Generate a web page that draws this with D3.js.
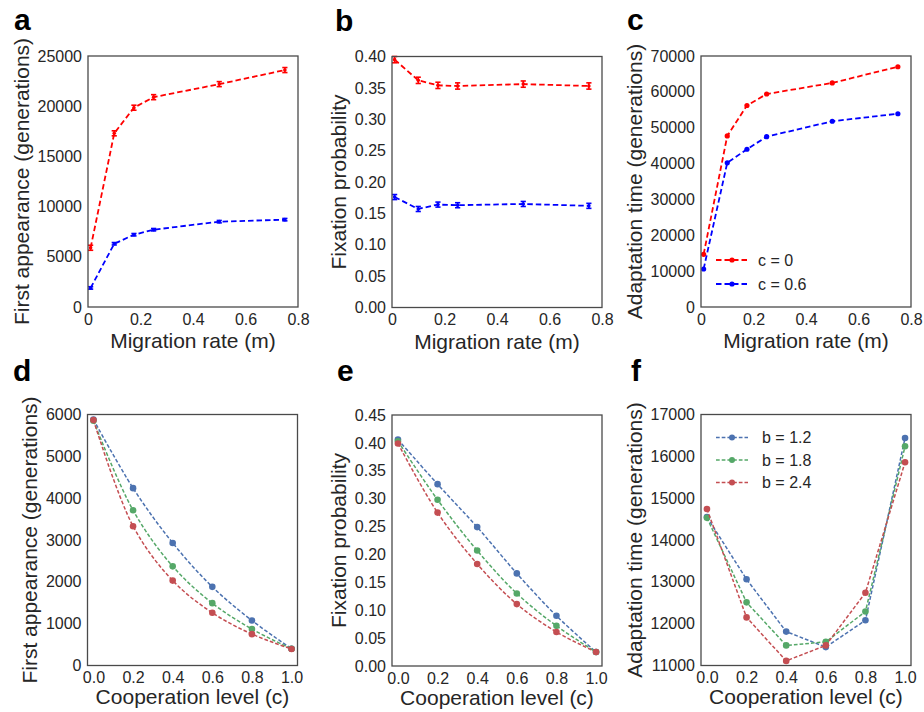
<!DOCTYPE html>
<html>
<head>
<meta charset="utf-8">
<script src="https://cdn.jsdelivr.net/npm/d3@7"></script>
<style>
  body { margin: 0; background: #fff; }
  svg { display: block; }
  text { font-family: "Liberation Sans", Arial, Helvetica, sans-serif; }
</style>
</head>
<body>
<svg id="fig" width="924" height="712"></svg>
<script>
// ---------- data: migration-rate experiments (top row) ----------
const migration = [0.01, 0.1, 0.175, 0.25, 0.5, 0.75];

const firstApp_c0      = [5900, 17300, 19850, 20900, 22200, 23600];
const firstApp_c0_err  = [250, 250, 250, 250, 250, 250];
const firstApp_c06     = [1900, 6300, 7200, 7700, 8500, 8700];
const firstApp_c06_err = [120, 120, 120, 120, 120, 120];

const fixProb_c0       = [0.395, 0.362, 0.354, 0.353, 0.356, 0.353];
const fixProb_c0_err   = [0.005, 0.005, 0.005, 0.005, 0.005, 0.005];
const fixProb_c06      = [0.176, 0.157, 0.164, 0.163, 0.165, 0.162];
const fixProb_c06_err  = [0.004, 0.004, 0.004, 0.004, 0.004, 0.004];

const adapt_c0         = [14700, 47700, 56200, 59400, 62500, 67000];
const adapt_c06        = [10600, 40200, 44000, 47500, 51800, 53900];

// ---------- data: cooperation-level experiments (bottom row) ----------
const cooperation = [0.0, 0.2, 0.4, 0.6, 0.8, 1.0];

const firstApp_b12 = [5880, 4240, 2930, 1880, 1075, 400];
const firstApp_b18 = [5850, 3710, 2370, 1490, 870, 400];
const firstApp_b24 = [5870, 3330, 2030, 1260, 750, 395];

const fixProb_b12 = [0.406, 0.326, 0.249, 0.166, 0.090, 0.025];
const fixProb_b18 = [0.403, 0.298, 0.207, 0.130, 0.072, 0.025];
const fixProb_b24 = [0.399, 0.275, 0.183, 0.111, 0.061, 0.025];

const adapt_b12 = [14550, 13060, 11810, 11440, 12080, 16440];
const adapt_b18 = [14530, 12510, 11480, 11565, 12290, 16240];
const adapt_b24 = [14740, 12150, 11110, 11480, 12740, 15860];

// ---------- tick values & labels ----------
const migTicks   = [0, 0.2, 0.4, 0.6, 0.8];
const coopTicks  = [0, 0.2, 0.4, 0.6, 0.8, 1.0];
const firstAppTicksTop = [0, 5000, 10000, 15000, 20000, 25000];
const fixProbTicksTop  = [0, 0.05, 0.10, 0.15, 0.20, 0.25, 0.30, 0.35, 0.40];
const adaptTicksTop    = [0, 10000, 20000, 30000, 40000, 50000, 60000, 70000];
const firstAppTicksBot = [0, 1000, 2000, 3000, 4000, 5000, 6000];
const fixProbTicksBot  = [0, 0.05, 0.10, 0.15, 0.20, 0.25, 0.30, 0.35, 0.40, 0.45];
const adaptTicksBot    = [11000, 12000, 13000, 14000, 15000, 16000, 17000];

const topLegend = ["c = 0", "c = 0.6"];
const botLegend = ["b = 1.2", "b = 1.8", "b = 2.4"];

// ---------- styles ----------
const RED = "#ff0000", BLUE = "#0000ff";
const SB_BLUE = "#4c72b0", SB_GREEN = "#55a868", SB_RED = "#c44e52";
const TEXT = "#262626";
const W = 210, H = 251;

const svg = d3.select("#fig");

const fmtInt = d3.format("d");
const fmt1 = d => d === 0 ? "0" : d3.format(".1f")(d);
const fmt1b = d3.format(".1f");
const fmt2 = d3.format(".2f");

function drawPanel(p) {
  const g = svg.append("g").attr("transform", `translate(${p.left},${p.top})`);
  const x = d3.scaleLinear().domain(p.xDomain).range([0, W]);
  const y = d3.scaleLinear().domain(p.yDomain).range([H, 0]);

  // series
  p.series.forEach(s => {
    const pts = s.x.map((xv, i) => [xv, s.y[i], s.err ? s.err[i] : 0]);
    const line = d3.line().x(d => x(d[0])).y(d => y(d[1]))
      .curve(s.smooth ? d3.curveCatmullRom.alpha(0.5) : d3.curveLinear);
    g.append("path").datum(pts)
      .attr("d", line)
      .attr("fill", "none")
      .attr("stroke", s.color)
      .attr("stroke-width", s.lw)
      .attr("stroke-dasharray", s.dash);

    if (s.err) {
      const eb = g.append("g").attr("stroke", s.color).attr("stroke-width", 1.6);
      pts.forEach(d => {
        const cx = x(d[0]), y0 = y(d[1] - d[2]), y1 = y(d[1] + d[2]);
        eb.append("line").attr("x1", cx).attr("x2", cx).attr("y1", y0).attr("y2", y1);
        eb.append("line").attr("x1", cx - 2.6).attr("x2", cx + 2.6).attr("y1", y0).attr("y2", y0);
        eb.append("line").attr("x1", cx - 2.6).attr("x2", cx + 2.6).attr("y1", y1).attr("y2", y1);
      });
    }
    g.append("g").selectAll("circle").data(pts).join("circle")
      .attr("cx", d => x(d[0])).attr("cy", d => y(d[1]))
      .attr("r", s.r).attr("fill", s.color);
  });

  // frame
  g.append("rect").attr("x", 0).attr("y", 0).attr("width", W).attr("height", H)
    .attr("fill", "none").attr("stroke", "#4a4a4a").attr("stroke-width", 1.3);

  // axes (no tick marks)
  const xAxis = g.append("g").attr("transform", `translate(0,${H})`)
    .call(d3.axisBottom(x).tickValues(p.xTicks).tickFormat(p.xFmt).tickSize(0).tickPadding(6));
  const yAxis = g.append("g")
    .call(d3.axisLeft(y).tickValues(p.yTicks).tickFormat(p.yFmt).tickSize(0).tickPadding(6));
  [xAxis, yAxis].forEach(a => {
    a.select(".domain").remove();
    a.selectAll("text").attr("fill", TEXT).attr("font-size", 16)
      .attr("font-family", '"Liberation Sans", Arial, sans-serif');
  });
  xAxis.selectAll("text").attr("dy", 0).attr("y", 17.5);

  // axis labels
  g.append("text")
    .attr("x", W / 2).attr("y", H + p.xLabelDy)
    .attr("text-anchor", "middle").attr("font-size", 21).attr("fill", TEXT)
    .text(p.xLabel);

  const yb = yAxis.node().getBBox();
  g.append("text")
    .attr("transform", `translate(${yb.x - 8.5},${H / 2}) rotate(-90)`)
    .attr("text-anchor", "middle").attr("font-size", 21).attr("fill", TEXT)
    .text(p.yLabel);

  // panel letter
  svg.append("text")
    .attr("x", p.letterX).attr("y", p.letterY)
    .attr("font-size", 30).attr("font-weight", "bold").attr("fill", "#000")
    .text(p.letter);

  // legend
  if (p.legend) {
    const lg = g.append("g");
    p.legend.items.forEach((it, i) => {
      const ly = p.legend.y0 + i * p.legend.dy;
      lg.append("line").attr("x1", p.legend.x0).attr("x2", p.legend.x0 + 32)
        .attr("y1", ly).attr("y2", ly)
        .attr("stroke", it.color).attr("stroke-width", it.lw).attr("stroke-dasharray", it.dash);
      lg.append("circle").attr("cx", p.legend.x0 + 16).attr("cy", ly).attr("r", it.r).attr("fill", it.color);
      lg.append("text").attr("x", p.legend.x0 + p.legend.tx).attr("y", ly).attr("dy", "0.35em")
        .attr("font-size", 16).attr("fill", TEXT).text(it.label);
    });
  }
}

const topDash = "5.5,3", topLw = 1.8;
const botDash = "3.7,2", botLw = 1.5;

// ---- a ----
drawPanel({
  left: 88, top: 56, letter: "a", letterX: 14, letterY: 30,
  xDomain: [0, 0.8], xTicks: migTicks, xFmt: fmt1,
  yDomain: [0, 25000], yTicks: firstAppTicksTop, yFmt: fmtInt,
  xLabel: "Migration rate (m)", yLabel: "First appearance (generations)", xLabelDy: 41,
  series: [
    { x: migration, y: firstApp_c0, err: firstApp_c0_err, color: RED, lw: topLw, dash: topDash, r: 1.8 },
    { x: migration, y: firstApp_c06, err: firstApp_c06_err, color: BLUE, lw: topLw, dash: topDash, r: 1.8 }
  ]
});

// ---- b ----
drawPanel({
  left: 392, top: 56.5, letter: "b", letterX: 335, letterY: 31,
  xDomain: [0, 0.8], xTicks: migTicks, xFmt: fmt1,
  yDomain: [0, 0.40], yTicks: fixProbTicksTop, yFmt: fmt2,
  xLabel: "Migration rate (m)", yLabel: "Fixation probability", xLabelDy: 41,
  series: [
    { x: migration, y: fixProb_c0, err: fixProb_c0_err, color: RED, lw: topLw, dash: topDash, r: 1.8 },
    { x: migration, y: fixProb_c06, err: fixProb_c06_err, color: BLUE, lw: topLw, dash: topDash, r: 1.8 }
  ]
});

// ---- c ----
drawPanel({
  left: 701, top: 56, letter: "c", letterX: 627, letterY: 30,
  xDomain: [0, 0.8], xTicks: migTicks, xFmt: fmt1,
  yDomain: [0, 70000], yTicks: adaptTicksTop, yFmt: fmtInt,
  xLabel: "Migration rate (m)", yLabel: "Adaptation time (generations)", xLabelDy: 41,
  series: [
    { x: migration, y: adapt_c0, color: RED, lw: topLw, dash: topDash, r: 2.6 },
    { x: migration, y: adapt_c06, color: BLUE, lw: topLw, dash: topDash, r: 2.6 }
  ],
  legend: {
    x0: 15, y0: 204, dy: 24, tx: 42,
    items: [
      { label: topLegend[0], color: RED, lw: topLw, dash: topDash, r: 2.6 },
      { label: topLegend[1], color: BLUE, lw: topLw, dash: topDash, r: 2.6 }
    ]
  }
});

// ---- d ----
drawPanel({
  left: 87.5, top: 414.5, letter: "d", letterX: 13, letterY: 381,
  xDomain: [-0.03, 1.03], xTicks: coopTicks, xFmt: fmt1b,
  yDomain: [0, 6000], yTicks: firstAppTicksBot, yFmt: fmtInt,
  xLabel: "Cooperation level (c)", yLabel: "First appearance (generations)", xLabelDy: 38.5,
  series: [
    { x: cooperation, y: firstApp_b12, color: SB_BLUE, lw: botLw, dash: botDash, r: 3.3, smooth: true },
    { x: cooperation, y: firstApp_b18, color: SB_GREEN, lw: botLw, dash: botDash, r: 3.3, smooth: true },
    { x: cooperation, y: firstApp_b24, color: SB_RED, lw: botLw, dash: botDash, r: 3.3, smooth: true }
  ]
});

// ---- e ----
drawPanel({
  left: 392, top: 415, letter: "e", letterX: 337, letterY: 381,
  xDomain: [-0.03, 1.03], xTicks: coopTicks, xFmt: fmt1b,
  yDomain: [0, 0.45], yTicks: fixProbTicksBot, yFmt: fmt2,
  xLabel: "Cooperation level (c)", yLabel: "Fixation probability", xLabelDy: 38.5,
  series: [
    { x: cooperation, y: fixProb_b12, color: SB_BLUE, lw: botLw, dash: botDash, r: 3.3, smooth: true },
    { x: cooperation, y: fixProb_b18, color: SB_GREEN, lw: botLw, dash: botDash, r: 3.3, smooth: true },
    { x: cooperation, y: fixProb_b24, color: SB_RED, lw: botLw, dash: botDash, r: 3.3, smooth: true }
  ]
});

// ---- f ----
drawPanel({
  left: 701, top: 414.5, letter: "f", letterX: 631, letterY: 381,
  xDomain: [-0.03, 1.03], xTicks: coopTicks, xFmt: fmt1b,
  yDomain: [11000, 17000], yTicks: adaptTicksBot, yFmt: fmtInt,
  xLabel: "Cooperation level (c)", yLabel: "Adaptation time (generations)", xLabelDy: 38.5,
  series: [
    { x: cooperation, y: adapt_b12, color: SB_BLUE, lw: botLw, dash: botDash, r: 3.3 },
    { x: cooperation, y: adapt_b18, color: SB_GREEN, lw: botLw, dash: botDash, r: 3.3 },
    { x: cooperation, y: adapt_b24, color: SB_RED, lw: botLw, dash: botDash, r: 3.3 }
  ],
  legend: {
    x0: 15, y0: 23, dy: 22.5, tx: 46,
    items: [
      { label: botLegend[0], color: SB_BLUE, lw: botLw, dash: botDash, r: 3 },
      { label: botLegend[1], color: SB_GREEN, lw: botLw, dash: botDash, r: 3 },
      { label: botLegend[2], color: SB_RED, lw: botLw, dash: botDash, r: 3 }
    ]
  }
});
</script>
</body>
</html>
